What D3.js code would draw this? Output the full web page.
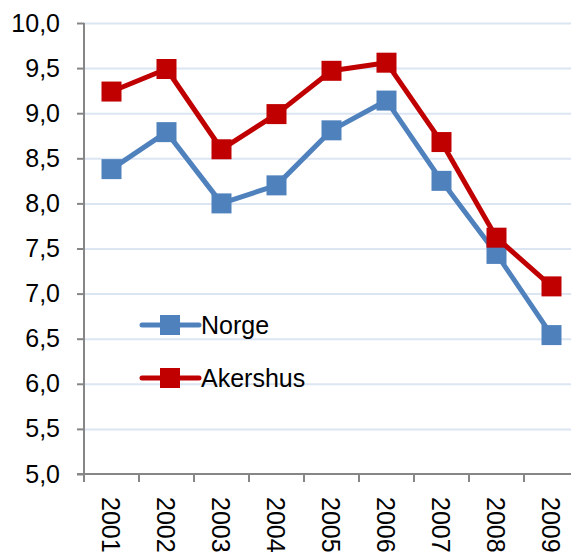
<!DOCTYPE html>
<html>
<head>
<meta charset="utf-8">
<script src="https://cdn.jsdelivr.net/npm/d3@7"></script>
<style>
  body { margin: 0; background: #fff; }
  text { font-family: "Liberation Sans", Arial, sans-serif; }
</style>
</head>
<body>
<div id="chart"></div>
<script>
"use strict";

const years = ["2001", "2002", "2003", "2004", "2005", "2006", "2007", "2008", "2009"];
const norge = [8.38, 8.79, 8.0, 8.2, 8.81, 9.14, 8.25, 7.44, 6.54];
const akershus = [9.24, 9.49, 8.6, 8.99, 9.47, 9.56, 8.68, 7.62, 7.08];
const yTicks = [5.0, 5.5, 6.0, 6.5, 7.0, 7.5, 8.0, 8.5, 9.0, 9.5, 10.0];

const cont = {
    width: 571,
    height: 554,
    left: 84,
    right: 579,
    top: 23,
    bottom: 474,
};

const svg = d3.select("#chart")
    .append("svg")
    .attr("width", cont.width)
    .attr("height", cont.height);

const xScale = d3.scaleBand()
    .domain(years)
    .range([cont.left, cont.right]);

const yScale = d3.scaleLinear()
    .domain([5, 10])
    .range([cont.bottom, cont.top]);

// gridlines
svg.append("g")
    .selectAll("line")
    .data(yTicks.filter(d => d > 5))
    .enter()
    .append("line")
    .attr("x1", cont.left)
    .attr("x2", cont.width)
    .attr("y1", d => yScale(d) + 0.5)
    .attr("y2", d => yScale(d) + 0.5)
    .attr("stroke", "#dce6f2")
    .attr("stroke-width", 2);

// y axis
const fmt = d => d3.format(".1f")(d).replace(".", ",");
const yAxis = svg.append("g")
    .attr("transform", "translate(" + cont.left + ",0)")
    .call(d3.axisLeft(yScale).tickValues(yTicks).tickFormat(fmt).tickSize(7).tickPadding(17));
yAxis.select(".domain").attr("stroke", "#868686").attr("stroke-width", 2)
    .attr("d", "M0," + cont.top + "V" + (cont.bottom + 7));
yAxis.selectAll(".tick line").attr("stroke", "#868686").attr("stroke-width", 2);
yAxis.selectAll(".tick text")
    .attr("font-size", 25)
    .attr("font-family", "Liberation Sans, Arial, sans-serif")
    .attr("fill", "#000");

// x axis
const xAxis = svg.append("g")
    .attr("transform", "translate(0," + cont.bottom + ")");
xAxis.append("line")
    .attr("x1", cont.left - 7)
    .attr("x2", cont.width)
    .attr("y1", 0)
    .attr("y2", 0)
    .attr("stroke", "#868686")
    .attr("stroke-width", 2);
xAxis.selectAll(".xtick")
    .data(years)
    .enter()
    .append("line")
    .attr("x1", d => xScale(d))
    .attr("x2", d => xScale(d))
    .attr("y1", 0)
    .attr("y2", 8)
    .attr("stroke", "#868686")
    .attr("stroke-width", 2);
xAxis.selectAll(".xlabel")
    .data(years)
    .enter()
    .append("text")
    .attr("transform", d => "translate(" + (xScale(d) + xScale.bandwidth() / 2 - 10) + ",23) rotate(90)")
    .attr("font-size", 25)
    .attr("fill", "#000")
    .text(d => d);

// series
const series = [
    { name: "Norge", values: norge, color: "#4f81bd" },
    { name: "Akershus", values: akershus, color: "#c00000" },
];

const line = d3.line()
    .x((d, i) => xScale(years[i]) + xScale.bandwidth() / 2)
    .y(d => yScale(d));

series.forEach(s => {
    svg.append("path")
        .datum(s.values)
        .attr("fill", "none")
        .attr("stroke", s.color)
        .attr("stroke-width", 5)
        .attr("stroke-linejoin", "round")
        .attr("d", line);
    svg.selectAll(".m-" + s.name)
        .data(s.values)
        .enter()
        .append("rect")
        .attr("x", (d, i) => xScale(years[i]) + xScale.bandwidth() / 2 - 10)
        .attr("y", d => yScale(d) - 10)
        .attr("width", 20)
        .attr("height", 20)
        .attr("fill", s.color);
});

// legend
const legend = svg.append("g").attr("transform", "translate(142,325)");
series.forEach((s, i) => {
    const g = legend.append("g").attr("transform", "translate(0," + (i * 53) + ")");
    g.append("line")
        .attr("x1", 0).attr("x2", 57)
        .attr("stroke", s.color)
        .attr("stroke-width", 5)
        .attr("stroke-linecap", "round");
    g.append("rect")
        .attr("x", 18).attr("y", -10)
        .attr("width", 20).attr("height", 20)
        .attr("fill", s.color);
    g.append("text")
        .attr("x", 59)
        .attr("y", 9)
        .attr("font-size", 25)
        .attr("fill", "#000")
        .text(s.name);
});
</script>
</body>
</html>
